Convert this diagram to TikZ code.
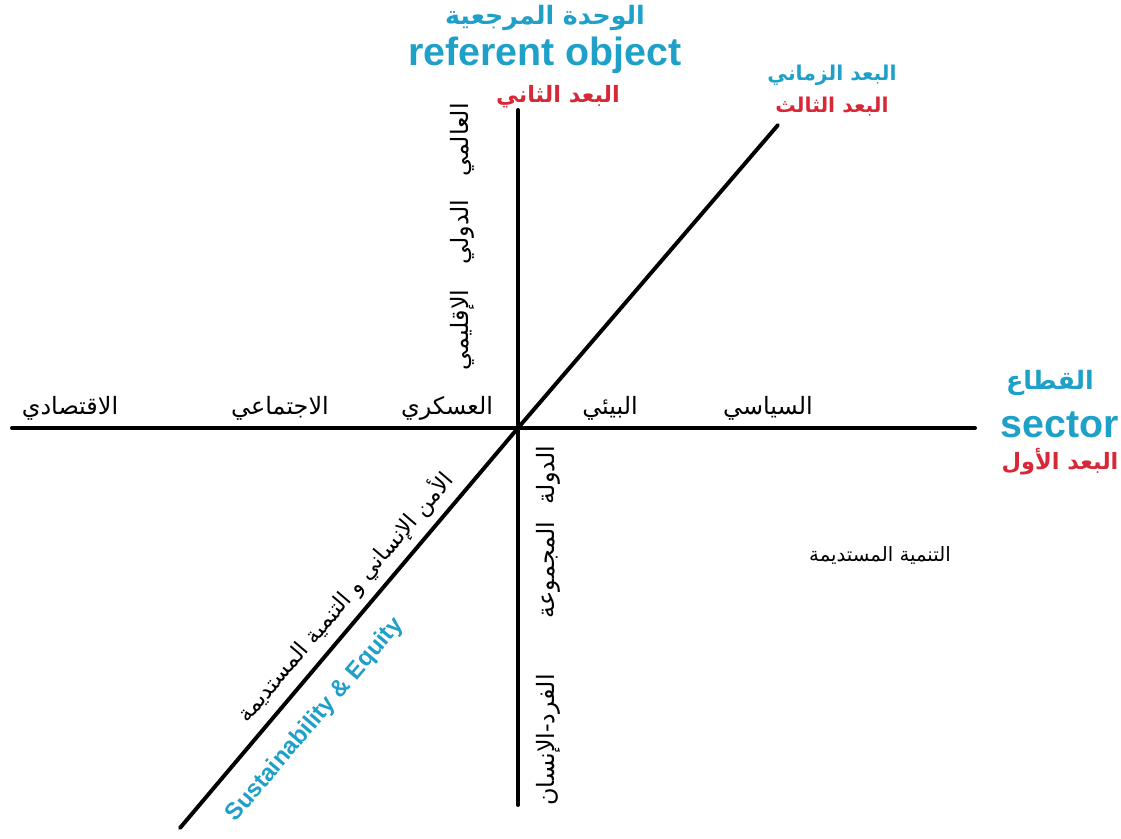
\documentclass[tikz,border=0pt]{standalone}
\usepackage{fontspec}
\setmainfont{Liberation Sans}
\newfontfamily\arabicfont[Script=Arabic]{DejaVu Sans}
\TeXXeTstate=1
\definecolor{axisblue}{RGB}{30,160,200}
\definecolor{axisred}{RGB}{215,40,55}
\newcommand{\ar}[1]{\arabicfont\beginR #1\endR}

\begin{document}
\begin{tikzpicture}[x=0.025cm, y=-0.025cm,
    axis/.style={line width=2.8pt, line cap=round},
    lbl/.style={inner sep=1pt, font=\fontsize{17}{20}\selectfont},
    headblue/.style={inner sep=1pt, text=axisblue, font=\fontsize{18}{20}\selectfont\bfseries},
    headred/.style={inner sep=1pt, text=axisred, font=\fontsize{16}{18}\selectfont\bfseries},
    latin/.style={inner sep=1pt, text=axisblue, font=\fontsize{28}{30}\selectfont\bfseries}
]
    \useasboundingbox (0,0) rectangle (1121,839);

    \coordinate (O) at (518,428);
    \coordinate (west) at (12,428);
    \coordinate (east) at (975,428);
    \coordinate (north) at (518,110);
    \coordinate (south) at (518,805);
    \coordinate (sw) at (180,828);
    \coordinate (ne) at (778,125);

    \draw[axis] (west) -- (east);
    \draw[axis] (north) -- (south);
    \draw[axis] (sw) -- (O) -- (ne);

    \node[headblue] (refar) at (545,18) {\ar{الوحدة المرجعية}};
    \node[latin] (ref) at (545,55) {referent object};
    \node[headred] (dim2) at (558,97) {\ar{البعد الثاني}};

    \node[headblue, font=\fontsize{14.5}{16}\selectfont\bfseries] (timear) at (832,75) {\ar{البعد الزماني}};
    \node[headred, font=\fontsize{14.5}{16}\selectfont\bfseries] (dim3) at (832,107) {\ar{البعد الثالث}};

    \node[headblue] (secar) at (1050,383) {\ar{القطاع}};
    \node[latin] (sec) at (1060,425) {sector};
    \node[headred] (dim1) at (1060,462) {\ar{البعد الأول}};

    \node[lbl] (econ) at (70,408) {\ar{الاقتصادي}};
    \node[lbl] (soc) at (280,408) {\ar{الاجتماعي}};
    \node[lbl] (mil) at (447,408) {\ar{العسكري}};
    \node[lbl] (env) at (610,408) {\ar{البيئي}};
    \node[lbl] (pol) at (768,408) {\ar{السياسي}};

    \node[lbl, rotate=90] (glob) at (462,140) {\ar{العالمي}};
    \node[lbl, rotate=90] (intl) at (462,232) {\ar{الدولي}};
    \node[lbl, rotate=90] (reg) at (462,330) {\ar{الإقليمي}};

    \node[lbl, rotate=90] (state) at (548,475) {\ar{الدولة}};
    \node[lbl, rotate=90] (group) at (548,570) {\ar{المجموعة}};
    \node[lbl, rotate=90] (indiv) at (548,740) {\ar{الفرد-الإنسان}};

    \node[lbl, font=\fontsize{14}{16}\selectfont] (sd) at (880,555) {\ar{التنمية المستديمة}};

    \node[lbl, rotate=49.6, font=\fontsize{16}{18}\selectfont] (hsec) at (345,597) {\ar{الأمن الإنساني و التنمية المستديمة}};
    \node[inner sep=1pt, rotate=49.6, text=axisblue, font=\fontsize{17}{19}\selectfont\bfseries] (sust) at (315,720) {Sustainability \& Equity};
\end{tikzpicture}
\end{document}
